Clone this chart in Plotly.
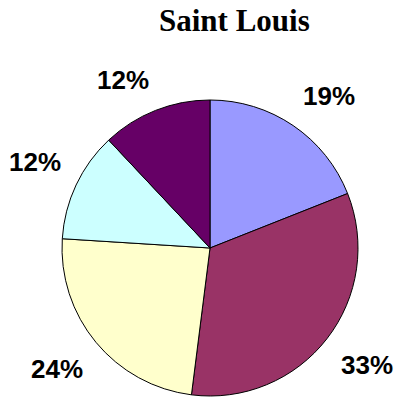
import math
import plotly.graph_objects as go

# Share of the total per group, in drawing order (clockwise from 12 o'clock)
shares = [19, 33, 24, 12, 12]
labels = ["19%", "33%", "24%", "12%", "12%"]
groups = ["A", "B", "C", "D", "E"]
colors = ["#9999FF", "#993366", "#FFFFCC", "#CCFFFF", "#660066"]

W, H = 395, 398
# pie placement in pixels
cx, cy, r = 210, 248, 148
label_dist = 164

fig = go.Figure(
    go.Pie(
        labels=groups,
        values=shares,
        sort=False,
        direction="clockwise",
        rotation=0,
        marker=dict(colors=colors, line=dict(color="#000000", width=1)),
        textinfo="none",
        hoverinfo="label+percent",
        domain=dict(x=[(cx - r) / W, (cx + r) / W], y=[1 - (cy + r) / H, 1 - (cy - r) / H]),
        showlegend=False,
    )
)

# percentage labels set outside each slice along its middle angle
total = sum(shares)
acc = 0
for val, txt in zip(shares, labels):
    mid = (acc + val / 2) / total * 2 * math.pi
    acc += val
    dx, dy = math.sin(mid), -math.cos(mid)
    px = cx + label_dist * dx
    py = cy + label_dist * dy
    fig.add_annotation(
        x=px / W,
        y=1 - py / H,
        xref="paper",
        yref="paper",
        text=txt,
        showarrow=False,
        xanchor="left" if dx > 0 else "right",
        yanchor="bottom" if dy < 0 else "top",
        font=dict(family="Liberation Sans", size=26, color="#000000", weight="bold"),
        borderpad=0,
    )

fig.add_annotation(
    x=234 / W,
    y=1 - 21 / H,
    xref="paper",
    yref="paper",
    text="Saint Louis",
    showarrow=False,
    xanchor="center",
    yanchor="middle",
    font=dict(family="Liberation Serif", size=31, color="#000000", weight="bold"),
)

fig.update_layout(
    width=W,
    height=H,
    margin=dict(l=0, r=0, t=0, b=0),
    paper_bgcolor="#FFFFFF",
    plot_bgcolor="#FFFFFF",
)

fig.write_html("out.html")
